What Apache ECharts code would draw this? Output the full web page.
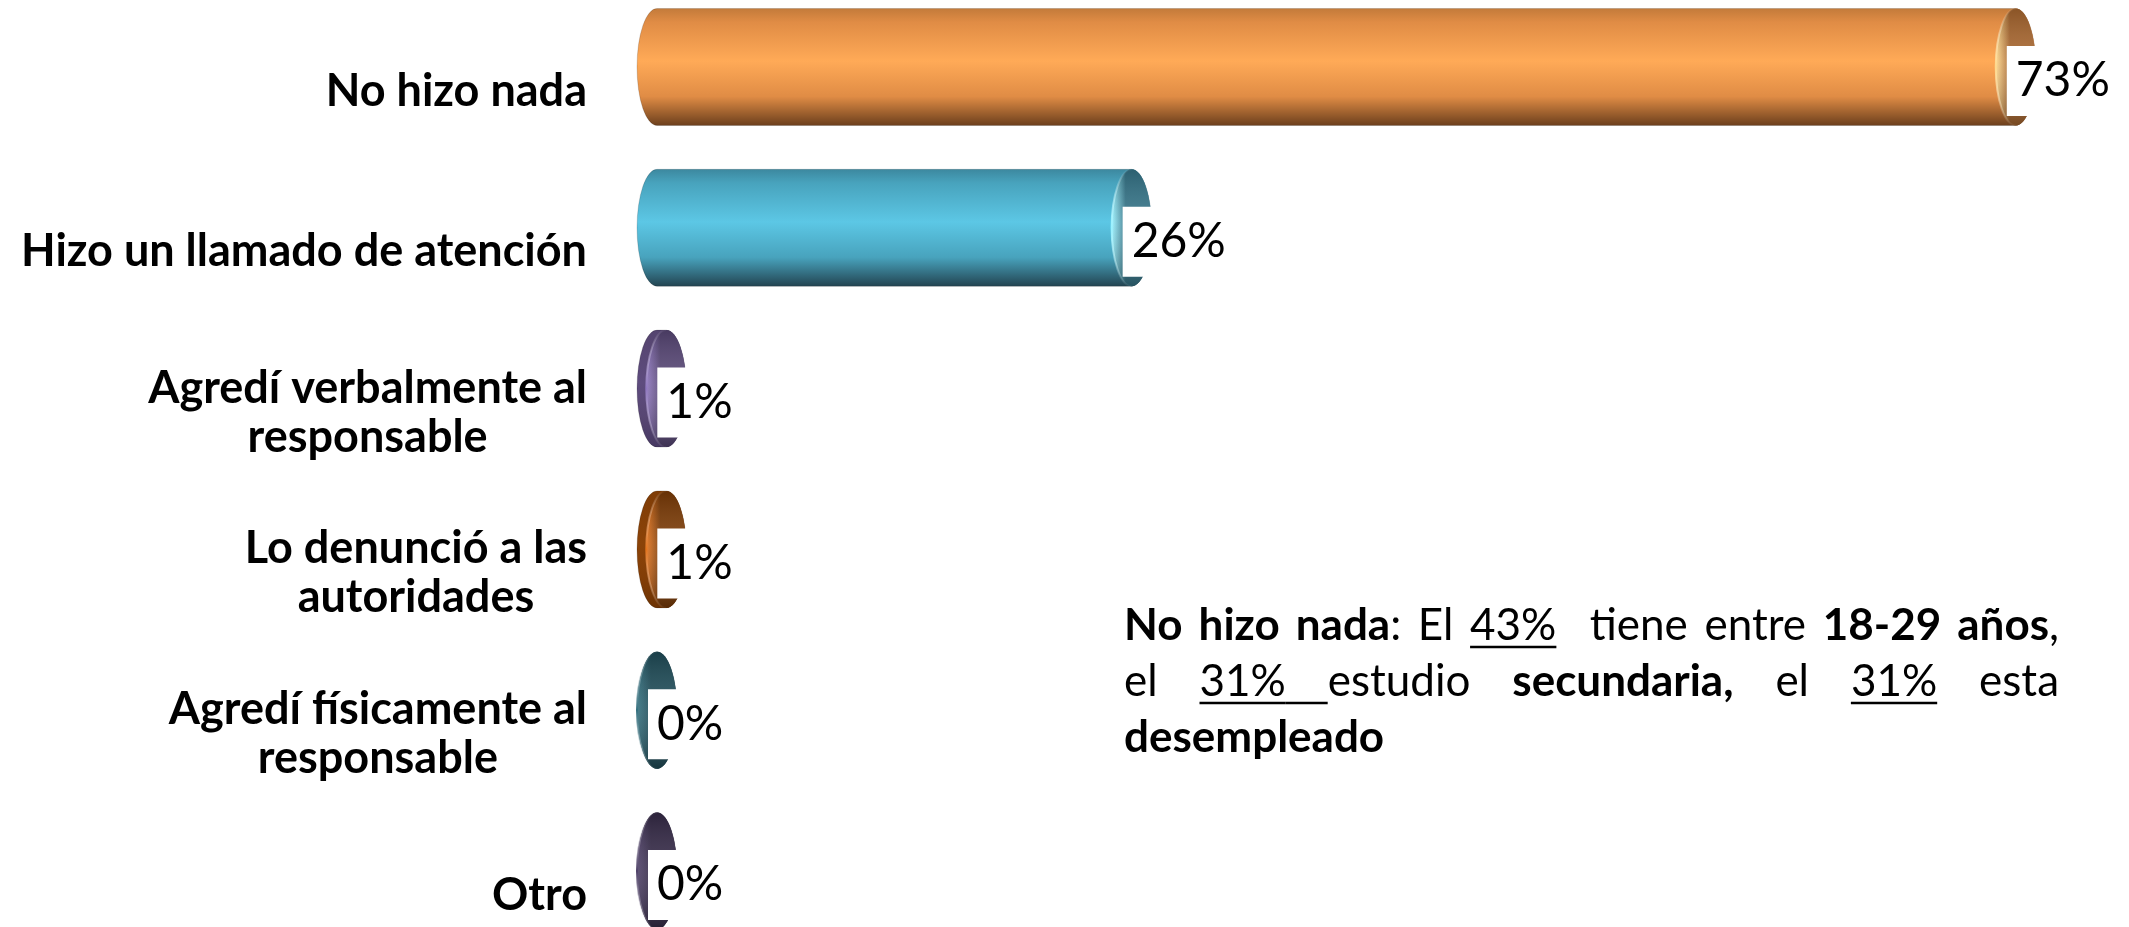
<!DOCTYPE html>
<html>
<head>
<meta charset="utf-8">
<script src="https://cdn.jsdelivr.net/npm/echarts@6/dist/echarts.min.js"></script>
<style>
	html, body { margin: 0; padding: 0; background: #fff; }
	#chart { width: 2129px; height: 927px; }
</style>
</head>
<body>
<div id="chart"></div>
<script>
// datos
var categories = ['No hizo nada', 'Hizo un llamado de atención', 'Agredí verbalmente al\nresponsable',
	'Lo denunció a las\nautoridades', 'Agredí físicamente al\nresponsable', 'Otro'];
var values = [73, 25.5, 0.5, 0.5, 0, 0];

// nota de la derecha (b = negrita, u = subrayado, n = normal)
var noteLines = [
	[['No hizo nada', 'b'], [': El ', 'n'], ['43%', 'u'], ['  tiene entre ', 'n'], ['18-29 años', 'b'], [',', 'n']],
	[['el ', 'n'], ['31% ', 'u'], ['estudio ', 'n'], ['secundaria,', 'b'], [' el ', 'n'], ['31%', 'u'], [' esta', 'n']],
	[['desempleado', 'b']]
];

var barColors = [
	{ top: '#C27A3A', hi: '#FFAA57', mid: '#E08C45', low: '#6A3E1C', face: '#A9672F', rim: '#FFD98C' },
	{ top: '#3C879E', hi: '#5CC7E5', mid: '#48A3BD', low: '#22424F', face: '#357589', rim: '#9AF2FF' },
	{ top: '#54446F', hi: '#5E4C7E', mid: '#574672', low: '#463862', face: '#584776', rim: '#8E76BE' },
	{ top: '#7E3C06', hi: '#8B4308', mid: '#823E07', low: '#6C3304', face: '#7C3B06', rim: '#E2731C' },
	{ top: '#1D4955', hi: '#21525F', mid: '#1E4C58', low: '#173C46', face: '#1F4C58', rim: '#34707F' },
	{ top: '#30263F', hi: '#382D4A', mid: '#342A45', low: '#2A2138', face: '#352A47', rim: '#4F4168' }
];

var barHeight = 117,
	capRx = 20;

/*cilindros*/
function renderCylinder(params, api) {
	var i = params.dataIndex;
	var c = barColors[i];
	var start = api.coord([0, i]);
	var end = api.coord([api.value(0), i]);
	var ry = barHeight / 2;
	var x0 = start[0],
		x1 = end[0],
		cy = start[1];
	var top = cy - ry,
		bot = cy + ry;

	var body = 'M' + x0 + ' ' + top + ' L' + x1 + ' ' + top +
		' A' + capRx + ' ' + ry + ' 0 0 1 ' + x1 + ' ' + bot +
		' L' + x0 + ' ' + bot +
		' A' + capRx + ' ' + ry + ' 0 0 1 ' + x0 + ' ' + top + ' Z';
	var rimPath = 'M' + x1 + ' ' + top + ' A' + capRx + ' ' + ry + ' 0 0 0 ' + x1 + ' ' + bot;

	return {
		type: 'group',
		children: [{
			type: 'path',
			shape: { pathData: body },
			style: {
				fill: new echarts.graphic.LinearGradient(0, 0, 0, 1, [
					{ offset: 0, color: c.top },
					{ offset: 0.12, color: c.mid },
					{ offset: 0.45, color: c.hi },
					{ offset: 0.75, color: c.mid },
					{ offset: 1, color: c.low }
				]),
				stroke: 'rgba(0,0,0,0.15)',
				lineWidth: 1
			}
		}, {
			type: 'ellipse',
			shape: { cx: x1, cy: cy, rx: capRx, ry: ry },
			style: {
				fill: new echarts.graphic.LinearGradient(0, 0, 1, 0, [
					{ offset: 0, color: c.rim },
					{ offset: 0.35, color: c.face },
					{ offset: 1, color: c.face }
				])
			}
		}, {
			type: 'ellipse',
			shape: { cx: x1, cy: cy, rx: capRx, ry: ry },
			style: {
				fill: new echarts.graphic.LinearGradient(0, 0, 0, 1, [
					{ offset: 0, color: 'rgba(0,0,0,0.18)' },
					{ offset: 0.45, color: 'rgba(255,255,255,0.1)' },
					{ offset: 1, color: 'rgba(0,0,0,0.3)' }
				])
			}
		}, {
			type: 'path',
			shape: { pathData: rimPath },
			style: {
				fill: null,
				lineWidth: 2,
				stroke: new echarts.graphic.LinearGradient(0, 0, 0, 1, [
					{ offset: 0, color: 'rgba(255,255,255,0)' },
					{ offset: 0.5, color: c.rim },
					{ offset: 1, color: 'rgba(255,255,255,0)' }
				])
			}
		}, {
			type: 'text',
			style: {
				text: Math.round(api.value(0)) + '%',
				x: x1 - 9,
				y: cy + 14,
				align: 'left',
				verticalAlign: 'middle',
				fontFamily: 'Lato',
				fontSize: 48,
				lineHeight: 48,
				fill: '#000',
				backgroundColor: '#fff',
				padding: [11, 10, 11, 9]
			}
		}]
	};
}

/*nota justificada*/
function buildNote() {
	var left = 1124,
		right = 2059,
		firstMiddle = 626,
		gap = 56,
		size = 44;
	var ctx = document.createElement('canvas').getContext('2d');
	var out = [];
	noteLines.forEach(function(line, li) {
		var runs = [];
		line.forEach(function(seg) {
			seg[0].split(/( )/).forEach(function(t) {
				if(t === '') return;
				ctx.font = (seg[1] == 'b' ? 'bold ' : '') + size + 'px Lato';
				runs.push({ t: t, s: seg[1], sp: t == ' ', w: ctx.measureText(t).width });
			});
		});
		var total = 0,
			spaces = 0;
		runs.forEach(function(r) {
			total += r.w;
			if(r.sp) spaces++;
		});
		var extra = (li < noteLines.length - 1 && spaces) ? (right - left - total) / spaces : 0;
		var x = left,
			y = firstMiddle + li * gap;
		runs.forEach(function(r) {
			var w = r.w + (r.sp ? extra : 0);
			if(!r.sp) {
				out.push({
					type: 'text',
					x: x,
					y: y,
					style: {
						text: r.t,
						align: 'left',
						verticalAlign: 'middle',
						fontFamily: 'Lato',
						fontSize: size,
						fontWeight: r.s == 'b' ? 'bold' : 'normal',
						fill: '#000'
					}
				});
			}
			if(r.s == 'u') {
				out.push({
					type: 'line',
					shape: { x1: x, y1: y + 21, x2: x + w, y2: y + 21 },
					style: { stroke: '#000', lineWidth: 2.5 }
				});
			}
			x += w;
		});
	});
	return out;
}

var Chart = echarts.init(document.getElementById('chart'));
var option = {
	backgroundColor: '#fff',
	animation: false,
	grid: {
		left: 657,
		right: 76,
		top: 67,
		bottom: 56
	},
	xAxis: {
		type: 'value',
		min: 0,
		max: 75,
		show: false
	},
	yAxis: {
		type: 'category',
		data: categories,
		inverse: true,
		boundaryGap: false,
		axisLine: { show: false },
		axisTick: { show: false },
		splitLine: { show: false },
		axisLabel: {
			interval: 0,
			margin: 70,
			align: 'right',
			padding: [48, 0, 0, 0],
			formatter: function(v) {
				return v.split('\n').map(function(s) {
					return '{c|' + s + '}';
				}).join('\n');
			},
			rich: {
				c: {
					align: 'center',
					fontFamily: 'Lato',
					fontWeight: 'bold',
					fontSize: 45,
					lineHeight: 49,
					color: '#000'
				}
			}
		}
	},
	series: [{
		type: 'custom',
		renderItem: renderCylinder,
		clip: false,
		encode: { x: 0, y: 1 },
		data: values.map(function(v, i) {
			return [v, i];
		})
	}],
	graphic: buildNote()
};
Chart.setOption(option);
</script>
</body>
</html>
